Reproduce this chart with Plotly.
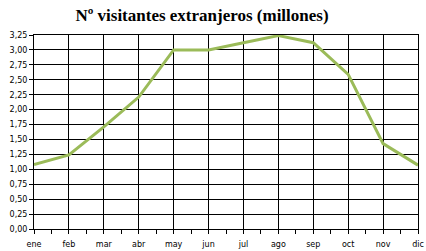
import plotly.graph_objects as go

months = ["ene", "feb", "mar", "abr", "may", "jun", "jul", "ago", "sep", "oct", "nov", "dic"]
visitors = [1.08, 1.24, 1.71, 2.21, 3.00, 3.00, 3.12, 3.24, 3.12, 2.59, 1.43, 1.07]
title_text = "Nº visitantes extranjeros (millones)"

x_idx = list(range(len(months)))

fig = go.Figure()
fig.add_trace(go.Scatter(
    x=x_idx, y=visitors, mode="lines",
    line=dict(color="#9BBB59", width=3),
    hoverinfo="skip",
))

fig.update_layout(
    width=426, height=251,
    margin=dict(l=34, r=8, t=35, b=22, autoexpand=False),
    paper_bgcolor="white", plot_bgcolor="white",
    separators=",.",
    showlegend=False,
    title=dict(
        text="<b>" + title_text + "</b>",
        x=202 / 426, xanchor="center", y=1 - 15 / 251, yanchor="middle",
        font=dict(family="Liberation Serif", size=17, color="black"),
    ),
    font=dict(family="DejaVu Sans", size=8, color="black"),
)

fig.update_xaxes(
    range=[0, len(months) - 1],
    tickvals=x_idx, ticktext=months,
    showgrid=True, gridcolor="black", gridwidth=1,
    showline=True, linecolor="black", linewidth=1, mirror=True,
    ticks="outside", ticklen=4, tickcolor="black", tickwidth=1,
    minor=dict(dtick=0.5, tick0=0.5, ticks="outside", ticklen=4, tickcolor="black", showgrid=False),
    zeroline=False, automargin=False,
    ticklabelstandoff=3,
    tickfont=dict(family="DejaVu Sans", size=8),
)
fig.update_yaxes(
    range=[0, 3.25], dtick=0.25, tick0=0, tickformat=".2f",
    showgrid=True, gridcolor="black", gridwidth=1,
    showline=True, linecolor="black", linewidth=1, mirror=True,
    ticks="outside", ticklen=4, tickcolor="black", tickwidth=1,
    zeroline=False, automargin=False,
    tickfont=dict(family="DejaVu Sans", size=8),
)

fig.write_html("out.html")
